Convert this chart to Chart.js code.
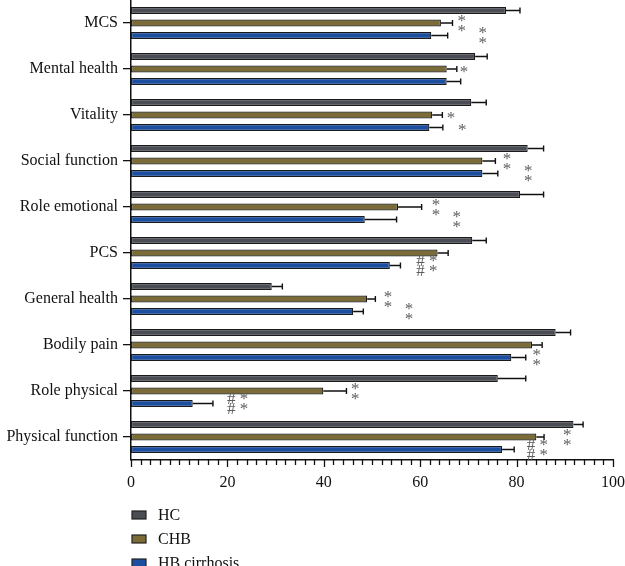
<!DOCTYPE html>
<html>
<head>
<meta charset="utf-8">
<script src="https://cdn.jsdelivr.net/npm/chart.js@4/dist/chart.umd.min.js"></script>
<style>
  html, body { margin: 0; padding: 0; background: #ffffff; }
  #wrap { width: 625px; height: 566px; position: relative; }
</style>
</head>
<body>
<div id="wrap"><canvas id="c" width="625" height="566"></canvas></div>
<script>
const categories = ['MCS', 'Mental health', 'Vitality', 'Social function', 'Role emotional', 'PCS', 'General health', 'Bodily pain', 'Role physical', 'Physical function'];
const seriesNames = ['HC', 'CHB', 'HB cirrhosis'];
const hcMeans  = [77.8, 71.4, 70.6, 82.3, 80.7, 70.8, 29.2, 88.1, 76.1, 91.8];
const hcErr    = [2.9, 2.5, 3.1, 3.3, 4.9, 2.9, 2.2, 3.1, 5.8, 2.0];
const chbMeans = [64.3, 65.5, 62.5, 72.9, 55.4, 63.6, 49.0, 83.2, 39.9, 84.1];
const chbErr   = [2.4, 2.1, 2.1, 2.7, 4.9, 2.2, 1.7, 2.1, 4.8, 1.6];
const hbMeans  = [62.3, 65.5, 61.9, 72.9, 48.5, 53.7, 46.1, 78.9, 12.8, 77.0];
const hbErr    = [3.4, 2.9, 2.8, 3.2, 6.6, 2.2, 2.1, 3.0, 4.2, 2.5];
const xTickLabels = ['0', '20', '40', '60', '80', '100'];

// significance marks: category, series index, text lines, x value where mark is centred
const marks = [
  { category: 'MCS', series: 1, lines: ['*', '*'], x: 68.6 },
  { category: 'MCS', series: 2, lines: ['*', '*'], x: 73.0 },
  { category: 'Mental health', series: 1, lines: ['*'], x: 69.1 },
  { category: 'Vitality', series: 1, lines: ['*'], x: 66.4 },
  { category: 'Vitality', series: 2, lines: ['*'], x: 68.7 },
  { category: 'Social function', series: 1, lines: ['*', '*'], x: 78.0 },
  { category: 'Social function', series: 2, lines: ['*', '*'], x: 82.4 },
  { category: 'Role emotional', series: 1, lines: ['*', '*'], x: 63.3 },
  { category: 'Role emotional', series: 2, lines: ['*', '*'], x: 67.6 },
  { category: 'PCS', series: 2, lines: ['# *', '# *'], x: 61.4 },
  { category: 'General health', series: 1, lines: ['*', '*'], x: 53.3 },
  { category: 'General health', series: 2, lines: ['*', '*'], x: 57.7 },
  { category: 'Bodily pain', series: 2, lines: ['*', '*'], x: 84.2 },
  { category: 'Role physical', series: 1, lines: ['*', '*'], x: 46.5 },
  { category: 'Role physical', series: 2, lines: ['# *', '# *'], x: 22.1 },
  { category: 'Physical function', series: 1, lines: ['*', '*'], x: 90.5 },
  { category: 'Physical function', series: 2, lines: ['# *', '# *'], x: 84.3 }
];

const colors = ['#4b4d55', '#7b6b36', '#1c4f9f'];
const SERIF = '"Liberation Serif", "DejaVu Serif", serif';
const errs = [hcErr, chbErr, hbErr];

const extras = {
  id: 'extras',
  afterDatasetsDraw(chart) {
    const ctx = chart.ctx;
    const xs = chart.scales.x;
    const area = chart.chartArea;
    ctx.save();
    // error bars
    ctx.strokeStyle = '#111';
    ctx.lineWidth = 1.4;
    chart.data.datasets.forEach((ds, i) => {
      const meta = chart.getDatasetMeta(i);
      meta.data.forEach((el, j) => {
        const x0 = xs.getPixelForValue(ds.data[j]);
        const x1 = xs.getPixelForValue(ds.data[j] + errs[i][j]);
        ctx.beginPath();
        ctx.moveTo(x0, el.y);
        ctx.lineTo(x1, el.y);
        ctx.moveTo(x1, el.y - 3);
        ctx.lineTo(x1, el.y + 3);
        ctx.stroke();
      });
    });
    // significance marks
    ctx.fillStyle = '#5e5e5e';
    ctx.font = '17px ' + SERIF;
    ctx.textAlign = 'center';
    ctx.textBaseline = 'alphabetic';
    marks.forEach(m => {
      const j = categories.indexOf(m.category);
      const el = chart.getDatasetMeta(m.series).data[j];
      const x = xs.getPixelForValue(m.x);
      const n = m.lines.length;
      m.lines.forEach((t, k) => {
        const tm = ctx.measureText(t);
        const off = (tm.actualBoundingBoxAscent - tm.actualBoundingBoxDescent) / 2;
        const y = el.y + (k - (n - 1) / 2) * 10 + off;
        ctx.fillText(t, x, y);
      });
    });
    // x-axis tick marks (major every 20, minor every 2)
    ctx.strokeStyle = '#111';
    ctx.lineWidth = 1.3;
    for (let v = 0; v <= 100; v += 2) {
      const px = Math.round(xs.getPixelForValue(v)) + 0.5;
      const len = (v % 20 === 0) ? 7 : 5;
      ctx.beginPath();
      ctx.moveTo(px, area.bottom);
      ctx.lineTo(px, area.bottom + len);
      ctx.stroke();
    }
    // legend
    ctx.font = '16px ' + SERIF;
    ctx.textAlign = 'left';
    ctx.textBaseline = 'middle';
    chart.data.datasets.forEach((ds, i) => {
      const y = area.bottom + 55 + i * 24;
      ctx.fillStyle = ds.backgroundColor;
      ctx.fillRect(area.left + 1, y - 4, 14, 8);
      ctx.strokeStyle = '#222';
      ctx.lineWidth = 1.2;
      ctx.strokeRect(area.left + 1, y - 4, 14, 8);
      ctx.fillStyle = '#111';
      ctx.fillText(ds.label, area.left + 27, y + 1);
    });
    ctx.restore();
  }
};

const datasets = [hcMeans, chbMeans, hbMeans].map((d, i) => ({
  label: seriesNames[i],
  data: d,
  backgroundColor: colors[i],
  borderColor: '#1a1a1a',
  borderWidth: 1.2,
  borderSkipped: false,
  barPercentage: 0.55,
  categoryPercentage: 0.815
}));

new Chart(document.getElementById('c'), {
  type: 'bar',
  data: { labels: categories, datasets: datasets },
  plugins: [extras],
  options: {
    indexAxis: 'y',
    responsive: false,
    animation: false,
    devicePixelRatio: 1,
    layout: { padding: { left: 0, right: 12, top: 0, bottom: 76 } },
    plugins: { legend: { display: false }, tooltip: { enabled: false } },
    scales: {
      x: {
        min: 0, max: 100,
        afterFit: s => { s.height = 30; s.paddingLeft = 0; s.paddingRight = 0; },
        afterBuildTicks: s => { s.ticks = xTickLabels.map(t => ({ value: Number(t) })); },
        ticks: { font: { family: SERIF, size: 16 }, color: '#111', padding: 5, maxRotation: 0,
                 callback: (v) => xTickLabels.includes(String(v)) ? String(v) : '' },
        grid: { display: false },
        border: { display: true, color: '#111', width: 1.5 }
      },
      y: {
        afterFit: s => { s.width = 131; s.paddingTop = 0; s.paddingBottom = 0; },
        ticks: { font: { family: SERIF, size: 16 }, color: '#111', padding: 5 },
        grid: { display: true, drawOnChartArea: false, offset: false, tickLength: 8, color: '#111', lineWidth: 1.3 },
        border: { display: true, color: '#111', width: 1.5 }
      }
    }
  }
});
</script>
</body>
</html>
